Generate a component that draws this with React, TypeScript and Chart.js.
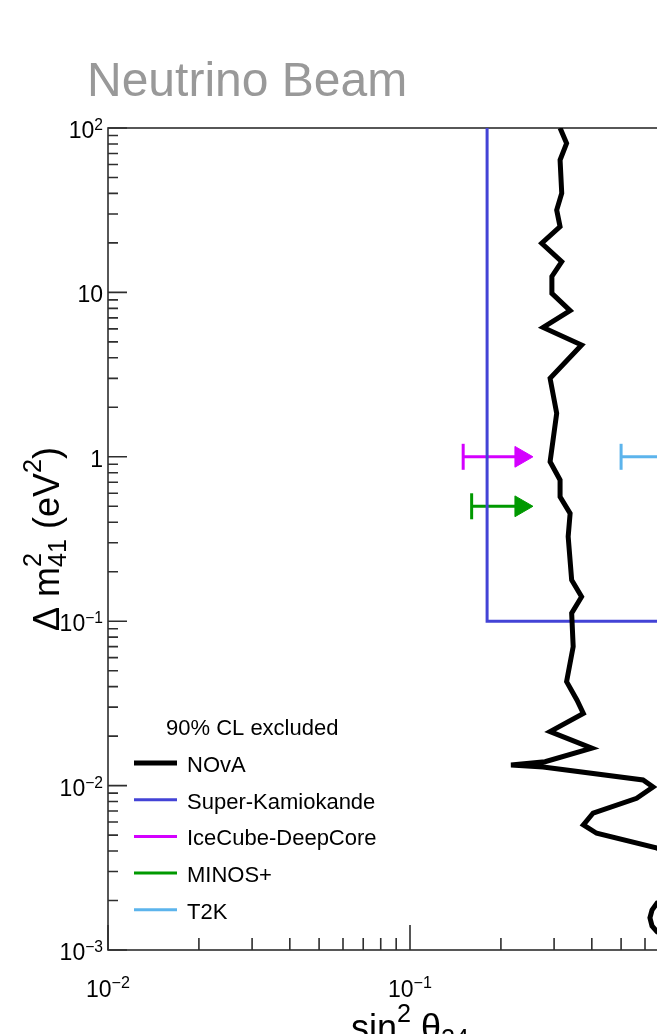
import React, { useEffect, useRef } from "react";
import { Chart, registerables } from "chart.js";

Chart.register(...registerables);

// ---------------- data ----------------
const novaX = [
  0.314, 0.33, 0.314, 0.318, 0.306, 0.314, 0.273, 0.318, 0.295, 0.295, 0.339, 0.276, 0.37, 0.291, 0.306,
  0.291, 0.314, 0.314, 0.339, 0.334, 0.343, 0.37, 0.343, 0.347, 0.33, 0.357, 0.375, 0.291, 0.4, 0.28,
  0.216, 0.276, 0.591, 0.638, 0.563, 0.404, 0.375, 0.415, 0.658, 0.913, 0.783, 0.658, 0.633, 0.623,
  0.633, 0.658, 0.846,
];
const novaY = [
  100, 80.7, 63.9, 40.1, 31.7, 25.1, 19.9, 15.4, 12.5, 9.87, 7.74, 6.12, 4.79, 3.0, 1.84,
  0.934, 0.723, 0.572, 0.453, 0.327, 0.178, 0.141, 0.112, 0.07, 0.0429, 0.0332, 0.0275, 0.0213, 0.0169, 0.01397,
  0.01334, 0.01297, 0.01082, 0.0098, 0.00837, 0.00681, 0.00576, 0.00513, 0.00417, 0.00267, 0.00207, 0.00193, 0.00175, 0.00157,
  0.0014, 0.00129, 0.001,
];
const superKX = [0.18, 0.18, 1];
const superKY = [100, 0.1, 0.1];
const iceCubeX = [0.15, 0.233];
const iceCubeY = [1, 1];
const minosX = [0.16, 0.233];
const minosY = [0.5, 0.5];
const t2kX = [0.5, 0.778];
const t2kY = [1, 1];

const seriesLabels = ["NOvA", "Super-Kamiokande", "IceCube-DeepCore", "MINOS+", "T2K"];
const legendHeader = "90% CL excluded";
const chartTitle = "Neutrino Beam";

const xMajorTicks = [0.01, 0.1, 1];
const xTickLabels = ["10^{-2}", "10^{-1}", "1"];
const yMajorTicks = [0.001, 0.01, 0.1, 1, 10, 100];
const yTickLabels = ["10^{-3}", "10^{-2}", "10^{-1}", "1", "10", "10^{2}"];

type Seg = { text: string; kind: "n" | "sup" | "sub" | "supsub"; sub?: string };
const xTitleSegs: Seg[] = [
  { text: "sin", kind: "n" },
  { text: "2", kind: "sup" },
  { text: " θ", kind: "n" },
  { text: "24", kind: "sub" },
];
const yTitleSegs: Seg[] = [
  { text: "Δ m", kind: "n" },
  { text: "2", kind: "supsub", sub: "41" },
  { text: " (eV", kind: "n" },
  { text: "2", kind: "sup" },
  { text: ")", kind: "n" },
];

// ---------------- styling ----------------
const FONT = '"Liberation Sans", Arial, Helvetica, sans-serif';
const AXIS_COLOR = "#2e2e2e";
const COLORS = {
  nova: "#000000",
  superK: "#4343d6",
  ice: "#d400ff",
  minos: "#009900",
  t2k: "#5cb4ec",
};

const font = (s: number) => `${s}px ${FONT}`;

function parseTick(label: string): Seg[] {
  const m = label.match(/^(.*)\^\{(.*)\}$/);
  if (m) return [{ text: m[1], kind: "n" }, { text: m[2].replace("-", "−"), kind: "sup" }];
  return [{ text: label, kind: "n" }];
}

function measureSegs(ctx: CanvasRenderingContext2D, segs: Seg[], size: number, ratio: number) {
  let w = 0;
  for (const s of segs) {
    if (s.kind === "n") {
      ctx.font = font(size);
      w += ctx.measureText(s.text).width;
    } else {
      ctx.font = font(size * ratio);
      const a = ctx.measureText(s.text).width;
      const b = s.sub ? ctx.measureText(s.sub).width : 0;
      w += Math.max(a, b);
    }
  }
  return w;
}

function drawSegs(
  ctx: CanvasRenderingContext2D,
  segs: Seg[],
  x: number,
  y: number,
  size: number,
  ratio: number,
  raise: number,
  lower: number
) {
  ctx.textAlign = "left";
  ctx.textBaseline = "alphabetic";
  let cx = x;
  for (const s of segs) {
    if (s.kind === "n") {
      ctx.font = font(size);
      ctx.fillText(s.text, cx, y);
      cx += ctx.measureText(s.text).width;
    } else {
      ctx.font = font(size * ratio);
      const a = ctx.measureText(s.text).width;
      if (s.kind === "sup") {
        ctx.fillText(s.text, cx, y - raise * size);
        cx += a;
      } else if (s.kind === "sub") {
        ctx.fillText(s.text, cx, y + lower * size);
        cx += a;
      } else {
        ctx.fillText(s.text, cx, y - raise * size);
        const b = ctx.measureText(s.sub || "").width;
        ctx.fillText(s.sub || "", cx, y + lower * size);
        cx += Math.max(a, b);
      }
    }
  }
}

function minorTicks(majors: number[]) {
  const out: number[] = [];
  for (let i = 0; i < majors.length - 1; i++) {
    for (let k = 2; k <= 9; k++) out.push(majors[i] * k);
  }
  return out;
}

const rootPlugin = {
  id: "rootStyle",
  beforeDatasetsDraw(chart: any) {
    const ctx: CanvasRenderingContext2D = chart.ctx;
    const { left, right, top, bottom } = chart.chartArea;
    const xs = chart.scales.x;
    const ys = chart.scales.y;
    ctx.save();
    ctx.strokeStyle = AXIS_COLOR;
    ctx.lineWidth = 1.6;
    ctx.strokeRect(left, top, right - left, bottom - top);
    ctx.beginPath();
    for (const v of yMajorTicks) {
      const p = ys.getPixelForValue(v);
      ctx.moveTo(left, p);
      ctx.lineTo(left + 19, p);
    }
    for (const v of minorTicks(yMajorTicks)) {
      const p = ys.getPixelForValue(v);
      ctx.moveTo(left, p);
      ctx.lineTo(left + 10, p);
    }
    for (const v of xMajorTicks) {
      const p = xs.getPixelForValue(v);
      ctx.moveTo(p, bottom);
      ctx.lineTo(p, bottom - 25);
    }
    for (const v of minorTicks(xMajorTicks)) {
      const p = xs.getPixelForValue(v);
      ctx.moveTo(p, bottom);
      ctx.lineTo(p, bottom - 12);
    }
    ctx.stroke();
    ctx.restore();
  },
  afterDraw(chart: any) {
    const ctx: CanvasRenderingContext2D = chart.ctx;
    const { left, right, top, bottom } = chart.chartArea;
    const xs = chart.scales.x;
    const ys = chart.scales.y;
    ctx.save();
    ctx.fillStyle = "#000";

    // tick labels
    const TS = 23;
    yMajorTicks.forEach((v, i) => {
      const segs = parseTick(yTickLabels[i]);
      const w = measureSegs(ctx, segs, TS, 0.68);
      const p = ys.getPixelForValue(v);
      drawSegs(ctx, segs, left - 5 - w, p + 10, TS, 0.68, 0.34, 0);
    });
    xMajorTicks.forEach((v, i) => {
      const segs = parseTick(xTickLabels[i]);
      const w = measureSegs(ctx, segs, TS, 0.7);
      const p = xs.getPixelForValue(v);
      drawSegs(ctx, segs, p - w / 2, bottom + 47, TS, 0.7, 0.38, 0);
    });

    // axis titles
    const AS = 36;
    const xw = measureSegs(ctx, xTitleSegs, AS, 0.7);
    drawSegs(ctx, xTitleSegs, (left + right) / 2 - xw / 2, bottom + 90, AS, 0.7, 0.5, 0.2);
    const yw = measureSegs(ctx, yTitleSegs, AS, 0.7);
    ctx.save();
    ctx.translate(left - 49, (top + bottom) / 2);
    ctx.rotate(-Math.PI / 2);
    drawSegs(ctx, yTitleSegs, -yw / 2, 0, AS, 0.7, 0.5, 0.2);
    ctx.restore();

    // title
    ctx.fillStyle = "#999999";
    ctx.font = font(48);
    ctx.textAlign = "left";
    ctx.textBaseline = "alphabetic";
    ctx.fillText(chartTitle, 87, 96);

    // legend
    ctx.fillStyle = "#000";
    ctx.font = font(22);
    ctx.fillText(legendHeader, 166, 735);
    chart.data.datasets.forEach((ds: any, i: number) => {
      const cy = 764 + 36.7 * i;
      ctx.strokeStyle = ds.borderColor;
      ctx.lineWidth = ds.borderWidth;
      ctx.beginPath();
      ctx.moveTo(134, cy - 1);
      ctx.lineTo(177, cy - 1);
      ctx.stroke();
      ctx.fillStyle = "#000";
      ctx.font = font(22);
      ctx.fillText(ds.label, 187, cy + 8);
    });
    ctx.restore();
  },
};

function pts(xs: number[], ys: number[]) {
  return xs.map((x, i) => ({ x, y: ys[i] }));
}

function arrowDataset(label: string, xs: number[], ys: number[], color: string) {
  return {
    label,
    data: pts(xs, ys),
    showLine: true,
    borderColor: color,
    backgroundColor: color,
    borderWidth: 3,
    pointStyle: ["line", "triangle"],
    pointRotation: [90, 90],
    pointRadius: [13, 12],
    pointBorderWidth: [3, 1],
    pointBackgroundColor: color,
    pointBorderColor: color,
  };
}

export default function App() {
  const ref = useRef<HTMLCanvasElement>(null);
  useEffect(() => {
    const canvas = ref.current!;
    const chart = new Chart(canvas, {
      type: "scatter",
      data: {
        datasets: [
          {
            label: seriesLabels[0],
            data: pts(novaX, novaY),
            showLine: true,
            borderColor: COLORS.nova,
            backgroundColor: COLORS.nova,
            borderWidth: 5,
            pointRadius: 0,
            borderJoinStyle: "miter",
          } as any,
          {
            label: seriesLabels[1],
            data: pts(superKX, superKY),
            showLine: true,
            borderColor: COLORS.superK,
            backgroundColor: COLORS.superK,
            borderWidth: 3,
            pointRadius: 0,
          },
          arrowDataset(seriesLabels[2], iceCubeX, iceCubeY, COLORS.ice) as any,
          arrowDataset(seriesLabels[3], minosX, minosY, COLORS.minos) as any,
          arrowDataset(seriesLabels[4], t2kX, t2kY, COLORS.t2k) as any,
        ],
      },
      options: {
        responsive: false,
        animation: false,
        devicePixelRatio: 1,
        events: [],
        layout: { padding: { top: 128, left: 0, right: 48, bottom: 0 } },
        scales: {
          x: {
            type: "logarithmic",
            min: 0.01,
            max: 1,
            grid: { display: false },
            border: { display: false },
            ticks: { display: false },
            afterFit: (s: any) => {
              s.height = 130;
            },
          },
          y: {
            type: "logarithmic",
            min: 0.001,
            max: 100,
            grid: { display: false },
            border: { display: false },
            ticks: { display: false },
            afterFit: (s: any) => {
              s.width = 108;
            },
          },
        },
        plugins: {
          legend: { display: false },
          tooltip: { enabled: false },
          title: { display: false },
        },
      } as any,
      plugins: [rootPlugin],
    });
    return () => chart.destroy();
  }, []);
  return (
    <div
      style={{
        position: "fixed",
        left: 0,
        top: 0,
        width: 657,
        height: 1034,
        overflow: "hidden",
        background: "#fff",
      }}
    >
      <canvas ref={ref} width={760} height={1080} style={{ display: "block" }} />
    </div>
  );
}
